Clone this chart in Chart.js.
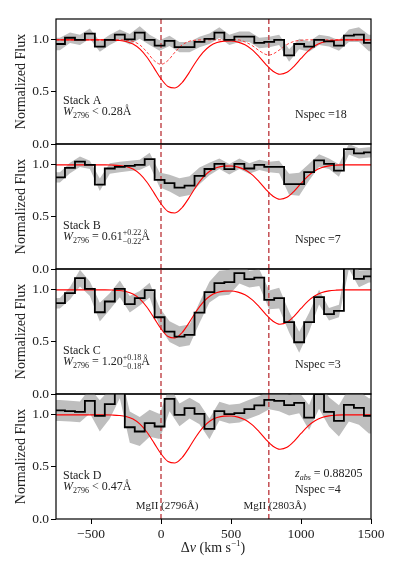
<!DOCTYPE html>
<html>
<head>
<meta charset="utf-8">
<script src="https://cdn.jsdelivr.net/npm/chart.js@4/dist/chart.umd.min.js"></script>
<style>
  html, body { margin: 0; padding: 0; background: #fff; overflow: hidden; }
  #figura { position: relative; width: 399px; height: 573px; }
  #figura canvas { position: absolute; left: 0; top: 0; }
</style>
</head>
<body>
<div id="figura">
  <canvas id="panel-0" width="399" height="573"></canvas>
  <canvas id="panel-1" width="399" height="573"></canvas>
  <canvas id="panel-2" width="399" height="573"></canvas>
  <canvas id="panel-3" width="399" height="573"></canvas>
</div>
<script>
// ===========================================================
// datos de la figura: espectros apilados de MgII (4 paneles)
// ===========================================================

// centros de cada bin de velocidad (km/s)
const velocidades = [-722, -650, -579, -508, -437, -366, -294, -223, -152, -81,
  -10, 61, 132, 204, 275, 346, 417, 488, 560, 631, 702, 773, 844, 915, 987,
  1058, 1129, 1200, 1271, 1342, 1414, 1485];

// flujo normalizado y error de cada stack
const flujo_a = [0.96, 1.02, 1.00, 1.06, 0.935, 1.00, 1.05, 1.005, 1.07, 1.00,
  0.945, 0.99, 0.93, 0.93, 0.98, 1.01, 1.07, 1.00, 1.03, 1.03, 0.97, 0.98, 1.00,
  0.85, 0.96, 0.935, 1.00, 0.985, 0.945, 1.04, 1.05, 0.97];
const error_a = [0.06, 0.05, 0.05, 0.05, 0.05, 0.05, 0.05, 0.05, 0.06, 0.05,
  0.05, 0.05, 0.05, 0.05, 0.05, 0.05, 0.05, 0.05, 0.05, 0.05, 0.05, 0.05, 0.05,
  0.06, 0.05, 0.05, 0.05, 0.05, 0.05, 0.06, 0.07, 0.08];

const flujo_b = [0.88, 0.97, 1.03, 1.00, 0.81, 0.965, 0.98, 0.99, 1.00, 1.055,
  0.856, 0.824, 0.782, 0.80, 0.894, 0.96, 1.01, 0.958, 1.01, 0.965, 1.00, 0.98,
  0.98, 0.814, 0.814, 0.93, 1.042, 1.01, 0.945, 1.15, 1.11, 1.12];
const error_b = [0.05, 0.05, 0.05, 0.04, 0.06, 0.05, 0.05, 0.05, 0.05, 0.06,
  0.07, 0.08, 0.09, 0.09, 0.08, 0.06, 0.05, 0.05, 0.05, 0.05, 0.05, 0.05, 0.06,
  0.10, 0.11, 0.08, 0.06, 0.05, 0.06, 0.05, 0.05, 0.05];

const flujo_c = [0.872, 0.968, 1.112, 1.01, 0.785, 0.888, 1.01, 0.862, 0.92,
  0.997, 0.737, 0.599, 0.551, 0.567, 0.782, 0.978, 1.064, 1.074, 1.16, 1.103,
  1.118, 0.904, 0.92, 0.69, 0.497, 0.69, 0.93, 0.766, 0.798, 1.30, 1.106, 1.13];
const error_c = [0.05, 0.06, 0.08, 0.07, 0.09, 0.08, 0.08, 0.08, 0.07, 0.07,
  0.09, 0.10, 0.10, 0.10, 0.10, 0.10, 0.12, 0.12, 0.10, 0.08, 0.08, 0.09, 0.10,
  0.10, 0.10, 0.09, 0.07, 0.06, 0.06, 0.10, 0.08, 0.06];

const flujo_d = [1.042, 1.035, 1.028, 1.134, 0.99, 1.103, 1.30, 0.881, 0.84,
  0.92, 0.888, 1.154, 1.00, 1.064, 1.01, 0.865, 1.035, 1.006, 1.016, 1.054,
  1.09, 1.144, 1.134, 1.093, 1.115, 0.974, 1.199, 1.028, 0.942, 1.096, 1.066, 0.99];
const error_d = [0.10, 0.10, 0.10, 0.12, 0.15, 0.14, 0.14, 0.15, 0.14, 0.13,
  0.12, 0.12, 0.11, 0.10, 0.10, 0.10, 0.09, 0.09, 0.09, 0.09, 0.09, 0.09, 0.10,
  0.10, 0.10, 0.12, 0.14, 0.14, 0.15, 0.16, 0.16, 0.17];

// modelo del doblete (curva roja continua, igual en los 4 paneles)
const modelo_v = [-750, -700, -650, -600, -550, -500, -450, -400, -350, -300,
  -250, -200, -150, -100, -50, 0, 50, 100, 150, 200, 250, 300, 350, 400, 450,
  500, 550, 600, 650, 700, 750, 800, 850, 900, 950, 1000, 1050, 1100, 1150,
  1200, 1250, 1300, 1350, 1400, 1450, 1500];
const modelo_flujo = [1.0, 1.0, 1.0, 1.0, 1.0, 1.0, 1.0, 1.0, 0.998, 0.994,
  0.984, 0.959, 0.910, 0.833, 0.731, 0.626, 0.552, 0.538, 0.588, 0.683, 0.790,
  0.880, 0.941, 0.974, 0.988, 0.989, 0.978, 0.952, 0.906, 0.839, 0.763, 0.699,
  0.670, 0.688, 0.746, 0.821, 0.892, 0.943, 0.974, 0.990, 0.997, 1.0, 1.0, 1.0,
  1.0, 1.0];

// modelo punteado que solo aparece en el stack A
const punteado_v = [-750, -300, -250, -200, -150, -100, -50, 0, 50, 100, 150,
  200, 250, 300, 550, 600, 650, 700, 750, 770, 800, 850, 900, 950, 1000, 1050, 1500];
const punteado_flujo = [1.0, 1.0, 0.997, 0.985, 0.950, 0.882, 0.802, 0.765,
  0.802, 0.882, 0.950, 0.985, 0.997, 1.0, 1.0, 0.980, 0.946, 0.897, 0.859, 0.855,
  0.864, 0.907, 0.955, 0.985, 0.996, 1.0, 1.0];

// posiciones de las lineas del doblete y sus nombres
const lineas_mgii = [0, 770];
const nombres_mgii = ['MgII (2796Å)', 'MgII (2803Å)'];

// ejes
const ticks_x = [-500, 0, 500, 1000, 1500];
const ticks_y = [0, 0.5, 1.0];
const rango_x = [-750, 1500];
const rango_y = [0, 1.2];

// textos de cada panel
const nombres_stack = ['Stack A', 'Stack B', 'Stack C', 'Stack D'];
const relacion_w = [' < 0.28Å', ' = 0.61', ' = 1.20', ' < 0.47Å'];
const incertezas_w = [null, ['+0.22', '−0.22'], ['+0.18', '−0.18'], null];
const nspec = [18, 7, 3, 4];
const z_abs = '0.88205';

const flujos = [flujo_a, flujo_b, flujo_c, flujo_d];
const errores = [error_a, error_b, error_c, error_d];

// -----------------------------------------------------------
// estilo / layout (pixeles de la figura)
// -----------------------------------------------------------
const ancho_fig = 399, alto_fig = 573;
const borde_izq = 56, borde_der = 371;
const arriba_paneles = [19, 144, 269, 394];
const alto_panel = 125;
const alto_eje_x = 30;
const serif = '"Liberation Serif", "DejaVu Serif", serif';
const color_texto = '#222';

function fuente(p) {
  return (p.i ? 'italic ' : '') + (p.s || 12) + 'px ' + serif;
}

// escribe un texto con partes de distinto estilo (subindices, etc)
function escribir(ctx, partes, x, y, centrado) {
  const anchos = partes.map(p => {
    ctx.font = fuente(p);
    if (p.pila) return Math.max(...p.pila.map(t => ctx.measureText(t).width));
    return ctx.measureText(p.t).width;
  });
  const total = anchos.reduce((a, b) => a + b, 0);
  let cx = centrado ? x - total / 2 : x;
  partes.forEach((p, k) => {
    ctx.font = fuente(p);
    if (p.pila) {
      ctx.fillText(p.pila[0], cx, y - 5);
      ctx.fillText(p.pila[1], cx, y + 4);
    } else {
      ctx.fillText(p.t, cx, y + (p.dy || 0));
    }
    cx += anchos[k];
  });
}

// plugin: marco negro alrededor del area del grafico
const marco = {
  id: 'marco',
  afterDraw(chart) {
    const a = chart.chartArea, ctx = chart.ctx;
    ctx.save();
    ctx.strokeStyle = '#000';
    ctx.lineWidth = 1.2;
    ctx.strokeRect(a.left, a.top, a.right - a.left, a.bottom - a.top);
    ctx.restore();
  }
};

// plugin: anotaciones de cada panel
function crear_textos(n) {
  return {
    id: 'textos',
    afterDraw(chart) {
      const a = chart.chartArea, ctx = chart.ctx;
      ctx.save();
      ctx.fillStyle = color_texto;
      ctx.textBaseline = 'alphabetic';
      ctx.textAlign = 'left';
      escribir(ctx, [{ t: nombres_stack[n] }], a.left + 7, a.top + 85);
      const w = [{ t: 'W', i: 1 }, { t: '2796', s: 8, dy: 3 }, { t: relacion_w[n] }];
      if (incertezas_w[n]) {
        w.push({ pila: incertezas_w[n], s: 8 });
        w.push({ t: 'Å' });
      }
      escribir(ctx, w, a.left + 7, a.top + 96);
      escribir(ctx, [{ t: 'Nspec =' + nspec[n] }], 295, a.top + 99);
      if (n === 3) {
        escribir(ctx, [{ t: 'z', i: 1 }, { t: 'abs', i: 1, s: 8, dy: 3 },
          { t: ' = ' + z_abs }], 295, a.top + 83);
        const ex = chart.scales.x;
        lineas_mgii.forEach((v, k) => {
          escribir(ctx, [{ t: nombres_mgii[k], s: 11 }],
            ex.getPixelForValue(v) + 6, a.top + 115, true);
        });
        // titulo del eje x
        escribir(ctx, [{ t: 'Δ', s: 14 }, { t: 'v', i: 1, s: 14 },
          { t: ' (km s', s: 14 }, { t: '−1', s: 9, dy: -6 }, { t: ')', s: 14 }],
          213, 552, true);
      }
      ctx.restore();
    }
  };
}

// -----------------------------------------------------------
// funcion: crear_panel
// arma un grafico de chart.js para cada stack
// -----------------------------------------------------------
function crear_panel(n) {
  const ultimo = n === 3;
  const arriba = arriba_paneles[n];
  const flujo = flujos[n], error = errores[n];

  // el histograma se extiende hasta los bordes del eje
  const puntos = (vals) => [{ x: rango_x[0], y: vals[0] }]
    .concat(velocidades.map((v, k) => ({ x: v, y: vals[k] })))
    .concat([{ x: rango_x[1], y: vals[vals.length - 1] }]);

  const abajo = flujo.map((f, k) => f - error[k]);
  const arriba_banda = flujo.map((f, k) => f + error[k]);

  const datasets = [
    {
      data: puntos(flujo), stepped: 'middle', borderColor: '#000',
      borderWidth: 1.8, clip: 0
    },
    {
      data: modelo_v.map((v, k) => ({ x: v, y: modelo_flujo[k] })),
      borderColor: '#ff0000', borderWidth: 1.1,
      cubicInterpolationMode: 'monotone', clip: 0
    }
  ];
  if (n === 0) {
    datasets.push({
      data: punteado_v.map((v, k) => ({ x: v, y: punteado_flujo[k] })),
      borderColor: '#ff2a2a', borderWidth: 0.9, borderDash: [3, 2],
      cubicInterpolationMode: 'monotone', clip: 0
    });
  }
  lineas_mgii.forEach(v => {
    datasets.push({
      data: [{ x: v, y: rango_y[0] }, { x: v, y: rango_y[1] }],
      borderColor: '#c44e52', borderWidth: 1.5, borderDash: [5, 3], clip: 0
    });
  });
  datasets.push({ data: puntos(abajo), borderWidth: 0, borderColor: 'rgba(0,0,0,0)', fill: false, clip: 0 });
  datasets.push({
    data: puntos(arriba_banda), borderWidth: 0, borderColor: 'rgba(0,0,0,0)',
    fill: '-1', backgroundColor: '#bebebe', clip: 0
  });

  const fuente_ticks = { family: serif, size: 13.5 };

  new Chart(document.getElementById('panel-' + n), {
    type: 'line',
    data: { datasets },
    options: {
      responsive: false,
      animation: false,
      devicePixelRatio: 1,
      layout: {
        padding: {
          left: 0, right: ancho_fig - borde_der, top: arriba,
          bottom: ultimo ? alto_fig - arriba - alto_panel - alto_eje_x
                         : alto_fig - arriba - alto_panel
        }
      },
      elements: { point: { radius: 0 }, line: { tension: 0 } },
      plugins: { legend: { display: false }, tooltip: { enabled: false } },
      scales: {
        x: {
          type: 'linear', min: rango_x[0], max: rango_x[1],
          display: ultimo,
          afterBuildTicks: s => { s.ticks = ticks_x.map(v => ({ value: v })); },
          // solo el ultimo panel tiene eje x visible
          afterFit: s => { s.height = ultimo ? alto_eje_x : 0; },
          grid: { display: true, drawOnChartArea: false, tickLength: 5, color: '#000', lineWidth: 1 },
          border: { display: false },
          ticks: {
            font: fuente_ticks, color: color_texto, padding: 2, maxRotation: 0,
            callback: v => (v < 0 ? '−' + Math.abs(v) : String(v))
          }
        },
        y: {
          type: 'linear', min: rango_y[0], max: rango_y[1],
          afterBuildTicks: s => { s.ticks = ticks_y.map(v => ({ value: v })); },
          afterFit: s => { s.width = borde_izq; },
          grid: { display: true, drawOnChartArea: false, tickLength: 5, color: '#000', lineWidth: 1 },
          border: { display: false },
          ticks: { font: fuente_ticks, color: color_texto, padding: 2, callback: v => v.toFixed(1) },
          title: {
            display: true, text: 'Normalized Flux', color: color_texto,
            font: { family: serif, size: 14 }, padding: { top: 13, bottom: 0 }
          }
        }
      }
    },
    plugins: [marco, crear_textos(n)]
  });
}

[0, 1, 2, 3].forEach(crear_panel);
</script>
</body>
</html>
